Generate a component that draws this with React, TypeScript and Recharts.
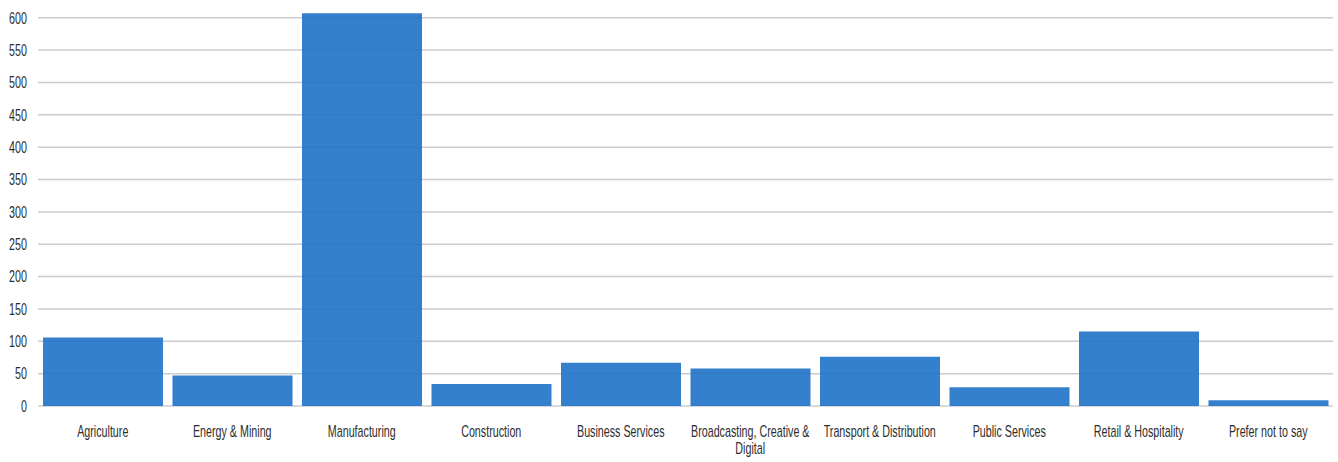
import React from 'react';
import { BarChart, Bar, XAxis, YAxis, CartesianGrid } from 'recharts';

const sectors = [
  'Agriculture',
  'Energy & Mining',
  'Manufacturing',
  'Construction',
  'Business Services',
  'Broadcasting, Creative & Digital',
  'Transport & Distribution',
  'Public Services',
  'Retail & Hospitality',
  'Prefer not to say',
];

const respondents = [106, 47, 607, 34, 67, 58, 76, 29, 115, 9];

const yTicks = [0, 50, 100, 150, 200, 250, 300, 350, 400, 450, 500, 550, 600];
const Y_MAX = 612;

const data = sectors.map((sector, i) => ({ sector, count: respondents[i] }));

const FONT = '"Liberation Sans", Arial, sans-serif';
const FONT_SIZE = 16;
const SQUEEZE = 0.67;
const TEXT_COLOR = '#2e2e2e';

let ctx: CanvasRenderingContext2D | null = null;
function measure(text: string) {
  if (!ctx) {
    ctx = document.createElement('canvas').getContext('2d');
  }
  if (!ctx) return text.length * 8;
  ctx.font = `${FONT_SIZE}px ${FONT}`;
  return ctx.measureText(text).width;
}

function wrap(label: string, maxWidth: number) {
  const words = label.split(' ');
  const lines: string[] = [];
  let line = '';
  for (const w of words) {
    const next = line ? `${line} ${w}` : w;
    if (line && measure(next) > maxWidth) {
      lines.push(line);
      line = w;
    } else {
      line = next;
    }
  }
  if (line) lines.push(line);
  return lines;
}

const YTick = (props: any) => {
  const { x, y, payload } = props;
  return (
    <text
      transform={`translate(${x},${y}) scale(${SQUEEZE},1)`}
      textAnchor="end"
      dy="0.36em"
      fontSize={FONT_SIZE}
      fontFamily={FONT}
      fill={TEXT_COLOR}
    >
      {payload.value}
    </text>
  );
};

const XTick = (props: any) => {
  const { x, y, payload } = props;
  const lines = wrap(payload.value, 129 / SQUEEZE);
  return (
    <text
      transform={`translate(${x},${y}) scale(${SQUEEZE},1)`}
      textAnchor="middle"
      fontSize={FONT_SIZE}
      fontFamily={FONT}
      fill={TEXT_COLOR}
    >
      {lines.map((l, i) => (
        <tspan key={i} x={0} y={23 + i * 17}>
          {l}
        </tspan>
      ))}
    </text>
  );
};

// grid lines only at the labelled ticks (not at the padded domain top)
const gridRows = ({ offset }: any) =>
  yTicks.map((v) => offset.top + offset.height * (1 - v / Y_MAX));

export default function App() {
  return (
    <div style={{ position: 'absolute', left: 0, top: 0, background: '#fff' }}>
      <BarChart
        width={1338}
        height={462}
        data={data}
        margin={{ top: 10, right: 5, left: 0, bottom: 0 }}
      >
        <CartesianGrid
          vertical={false}
          stroke="#cccccc"
          strokeWidth={1.5}
          horizontalCoordinatesGenerator={gridRows}
        />
        <XAxis
          dataKey="sector"
          interval={0}
          tickLine={false}
          axisLine={false}
          height={56}
          tick={<XTick />}
        />
        <YAxis
          domain={[0, Y_MAX]}
          ticks={yTicks}
          width={38}
          tickLine={false}
          axisLine={false}
          tickMargin={5}
          tick={<YTick />}
        />
        <Bar
          dataKey="count"
          barSize={120}
          fill="#1f72c6"
          fillOpacity={0.9}
          isAnimationActive={false}
        />
      </BarChart>
    </div>
  );
}
